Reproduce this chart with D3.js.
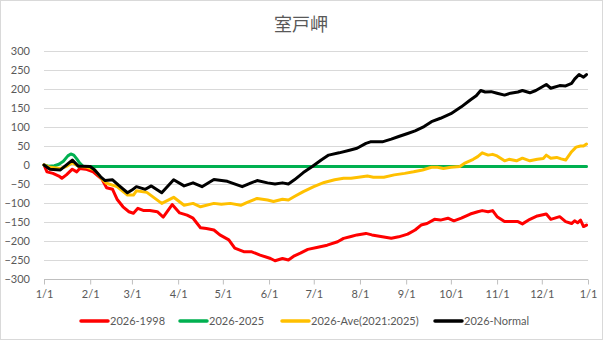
<!DOCTYPE html>
<html>
<head>
<meta charset="utf-8">
<script src="https://cdn.jsdelivr.net/npm/d3@7"></script>
<style>
  html, body { margin: 0; padding: 0; background: #fff; }
  svg { display: block; }
</style>
</head>
<body>
<svg id="chart" width="606" height="341"></svg>
<script>
// Cumulative differences at Muroto-misaki, by day of year: [day, value]
const seriesNames = ["2026-1998", "2026-2025", "2026-Ave(2021:2025)", "2026-Normal"];
const seriesColors = ["#FF0000", "#00B050", "#FFC000", "#000000"];

const diff1998 = [
  [0,0],[2,-18],[6,-22],[10,-29],[12,-35],[15,-26],[19,-11],[22,-18],[24,-9],[28,-11],
  [33,-18],[39,-38],[42,-60],[46,-64],[49,-90],[53,-110],[57,-123],[60,-127],[63,-114],
  [67,-120],[71,-120],[76,-123],[80,-137],[86,-104],[91,-126],[96,-132],[100,-140],
  [105,-165],[109,-167],[114,-171],[118,-184],[124,-197],[128,-219],[134,-228],[139,-228],
  [145,-237],[152,-246],[155,-252],[160,-246],[164,-250],[168,-239],[172,-232],[177,-222],
  [183,-217],[190,-211],[197,-202],[201,-193],[206,-188],[210,-184],[216,-180],[220,-184],
  [227,-189],[233,-193],[238,-189],[244,-182],[249,-171],[253,-158],[257,-154],[262,-143],
  [266,-145],[271,-140],[275,-147],[280,-140],[286,-129],[291,-123],[294,-120],[298,-123],
  [301,-120],[304,-136],[309,-149],[318,-149],[321,-155],[326,-143],[331,-134],[337,-129],
  [340,-143],[346,-136],[350,-149],[354,-154],[356,-147],[358,-152],[360,-145],[362,-162],[364,-158]
];

const diff2025 = [
  [0,0],[3,-3],[7,-2],[10,2],[13,10],[16,24],[18,29],[20,26],[22,16],[24,5],[26,-3],[28,-4],
  [364,-4]
];

const diffAve = [
  [0,0],[4,-6],[11,-9],[15,-4],[19,6],[23,-3],[28,-5],[34,-13],[39,-38],[42,-48],[49,-57],
  [56,-79],[60,-79],[62,-68],[69,-72],[79,-101],[87,-85],[94,-106],[100,-101],[105,-110],
  [114,-101],[119,-103],[125,-101],[132,-106],[136,-99],[143,-88],[150,-92],[154,-96],
  [160,-90],[164,-92],[168,-83],[174,-70],[181,-57],[188,-46],[195,-39],[201,-35],[206,-35],
  [211,-32],[217,-29],[221,-32],[228,-32],[235,-26],[242,-22],[248,-18],[254,-13],[260,-6],
  [264,-6],[268,-9],[273,-6],[279,-4],[282,4],[288,15],[291,22],[294,32],[298,26],[301,28],
  [304,24],[309,11],[312,15],[317,11],[321,18],[326,11],[331,15],[335,17],[337,26],[340,18],
  [344,20],[347,16],[350,13],[354,35],[357,47],[360,50],[362,50],[364,55]
];

const diffNormal = [
  [0,0],[4,-11],[11,-13],[19,13],[23,-3],[26,-3],[31,-4],[34,-13],[38,-31],[41,-41],[46,-39],
  [50,-53],[56,-73],[59,-66],[62,-57],[68,-64],[72,-55],[79,-73],[87,-39],[94,-55],[100,-47],
  [106,-57],[114,-38],[123,-43],[133,-57],[139,-47],[143,-41],[150,-47],[155,-50],[160,-47],
  [164,-50],[168,-39],[174,-20],[180,-4],[186,13],[191,26],[198,32],[205,39],[210,44],
  [216,57],[219,61],[227,61],[233,68],[238,75],[244,83],[249,90],[255,101],[260,114],
  [266,123],[273,135],[280,153],[286,171],[290,182],[293,196],[296,192],[300,193],[304,189],
  [309,184],[313,189],[318,192],[321,196],[326,190],[330,196],[337,212],[340,202],[346,209],
  [350,208],[354,215],[356,226],[359,238],[362,231],[364,238]
];

const seriesData = [diff1998, diff2025, diffAve, diffNormal];

const yTicks = [-300, -250, -200, -150, -100, -50, 0, 50, 100, 150, 200, 250, 300];
const monthStarts = ["2026-01-01","2026-02-01","2026-03-01","2026-04-01","2026-05-01","2026-06-01",
  "2026-07-01","2026-08-01","2026-09-01","2026-10-01","2026-11-01","2026-12-01","2027-01-01"];
const chartTitle = "室戸岬";

const svg = d3.select("#chart");
const plotLeft = 44, plotRight = 588, plotTop = 51, plotBottom = 279;
const textColor = "#595959";
const font = "Lato, 'Noto Sans', sans-serif";

// outer frame
svg.append("rect")
  .attr("x", 0.5).attr("y", 0.5).attr("width", 602).attr("height", 339)
  .attr("fill", "#fff").attr("stroke", "#d9d9d9").attr("stroke-width", 1);

const parse = d3.utcParse("%Y-%m-%d");
const start = parse("2026-01-01");
const x = d3.scaleUtc().domain([start, parse("2027-01-01")]).range([plotLeft, plotRight]);
const dayToDate = d => d3.utcDay.offset(start, d);
const y = d3.scaleLinear().domain([-300, 300]).range([plotBottom, plotTop]);

// title
svg.append("text")
  .attr("x", 301).attr("y", 31)
  .attr("text-anchor", "middle")
  .attr("font-family", "'Noto Sans CJK JP', sans-serif")
  .attr("font-size", 18).attr("fill", textColor)
  .text(chartTitle);

// horizontal gridlines
svg.append("g").selectAll("line")
  .data(yTicks.filter(v => v !== -300))
  .join("line")
  .attr("x1", plotLeft).attr("x2", plotRight)
  .attr("y1", d => Math.round(y(d)) + 0.5).attr("y2", d => Math.round(y(d)) + 0.5)
  .attr("stroke", "#d9d9d9").attr("stroke-width", 1);

// y axis labels
const yAxis = d3.axisLeft(y).tickValues(yTicks).tickSize(0).tickPadding(14);
const gy = svg.append("g").attr("transform", `translate(${plotLeft},0)`).call(yAxis);
gy.select(".domain").remove();
gy.selectAll("text").attr("font-family", font).attr("font-size", 11).attr("fill", textColor);

// x axis
const xAxis = d3.axisBottom(x)
  .tickValues(monthStarts.map(parse))
  .tickFormat(d3.utcFormat("%-m/%-d"))
  .tickSize(5).tickPadding(6);
const gx = svg.append("g").attr("transform", `translate(0,${Math.round(y(-300)) + 0.5})`).call(xAxis);
gx.select(".domain").attr("stroke", "#bfbfbf").attr("d", `M${plotLeft},0H${plotRight}`);
gx.selectAll(".tick line").attr("stroke", "#bfbfbf");
gx.selectAll("text").attr("font-family", font).attr("font-size", 11).attr("fill", textColor);

// series lines
const line = d3.line()
  .x(d => x(dayToDate(d[0])))
  .y(d => y(d[1]))
  .curve(d3.curveLinear);

svg.append("g").selectAll("path")
  .data(seriesData)
  .join("path")
  .attr("d", line)
  .attr("fill", "none")
  .attr("stroke", (d, i) => seriesColors[i])
  .attr("stroke-width", 3)
  .attr("stroke-linejoin", "round")
  .attr("stroke-linecap", "round");

// legend
const legendX = [81, 180, 282, 435];
const lg = svg.append("g").selectAll("g")
  .data(seriesNames)
  .join("g")
  .attr("transform", (d, i) => `translate(${legendX[i]},321)`);
lg.append("line")
  .attr("x1", 0).attr("x2", 27).attr("y1", 0).attr("y2", 0)
  .attr("stroke", (d, i) => seriesColors[i]).attr("stroke-width", 3.5).attr("stroke-linecap", "round");
lg.append("text")
  .attr("x", 29).attr("y", 4)
  .attr("font-family", font).attr("font-size", 11).attr("fill", textColor)
  .text(d => d);
</script>
</body>
</html>
